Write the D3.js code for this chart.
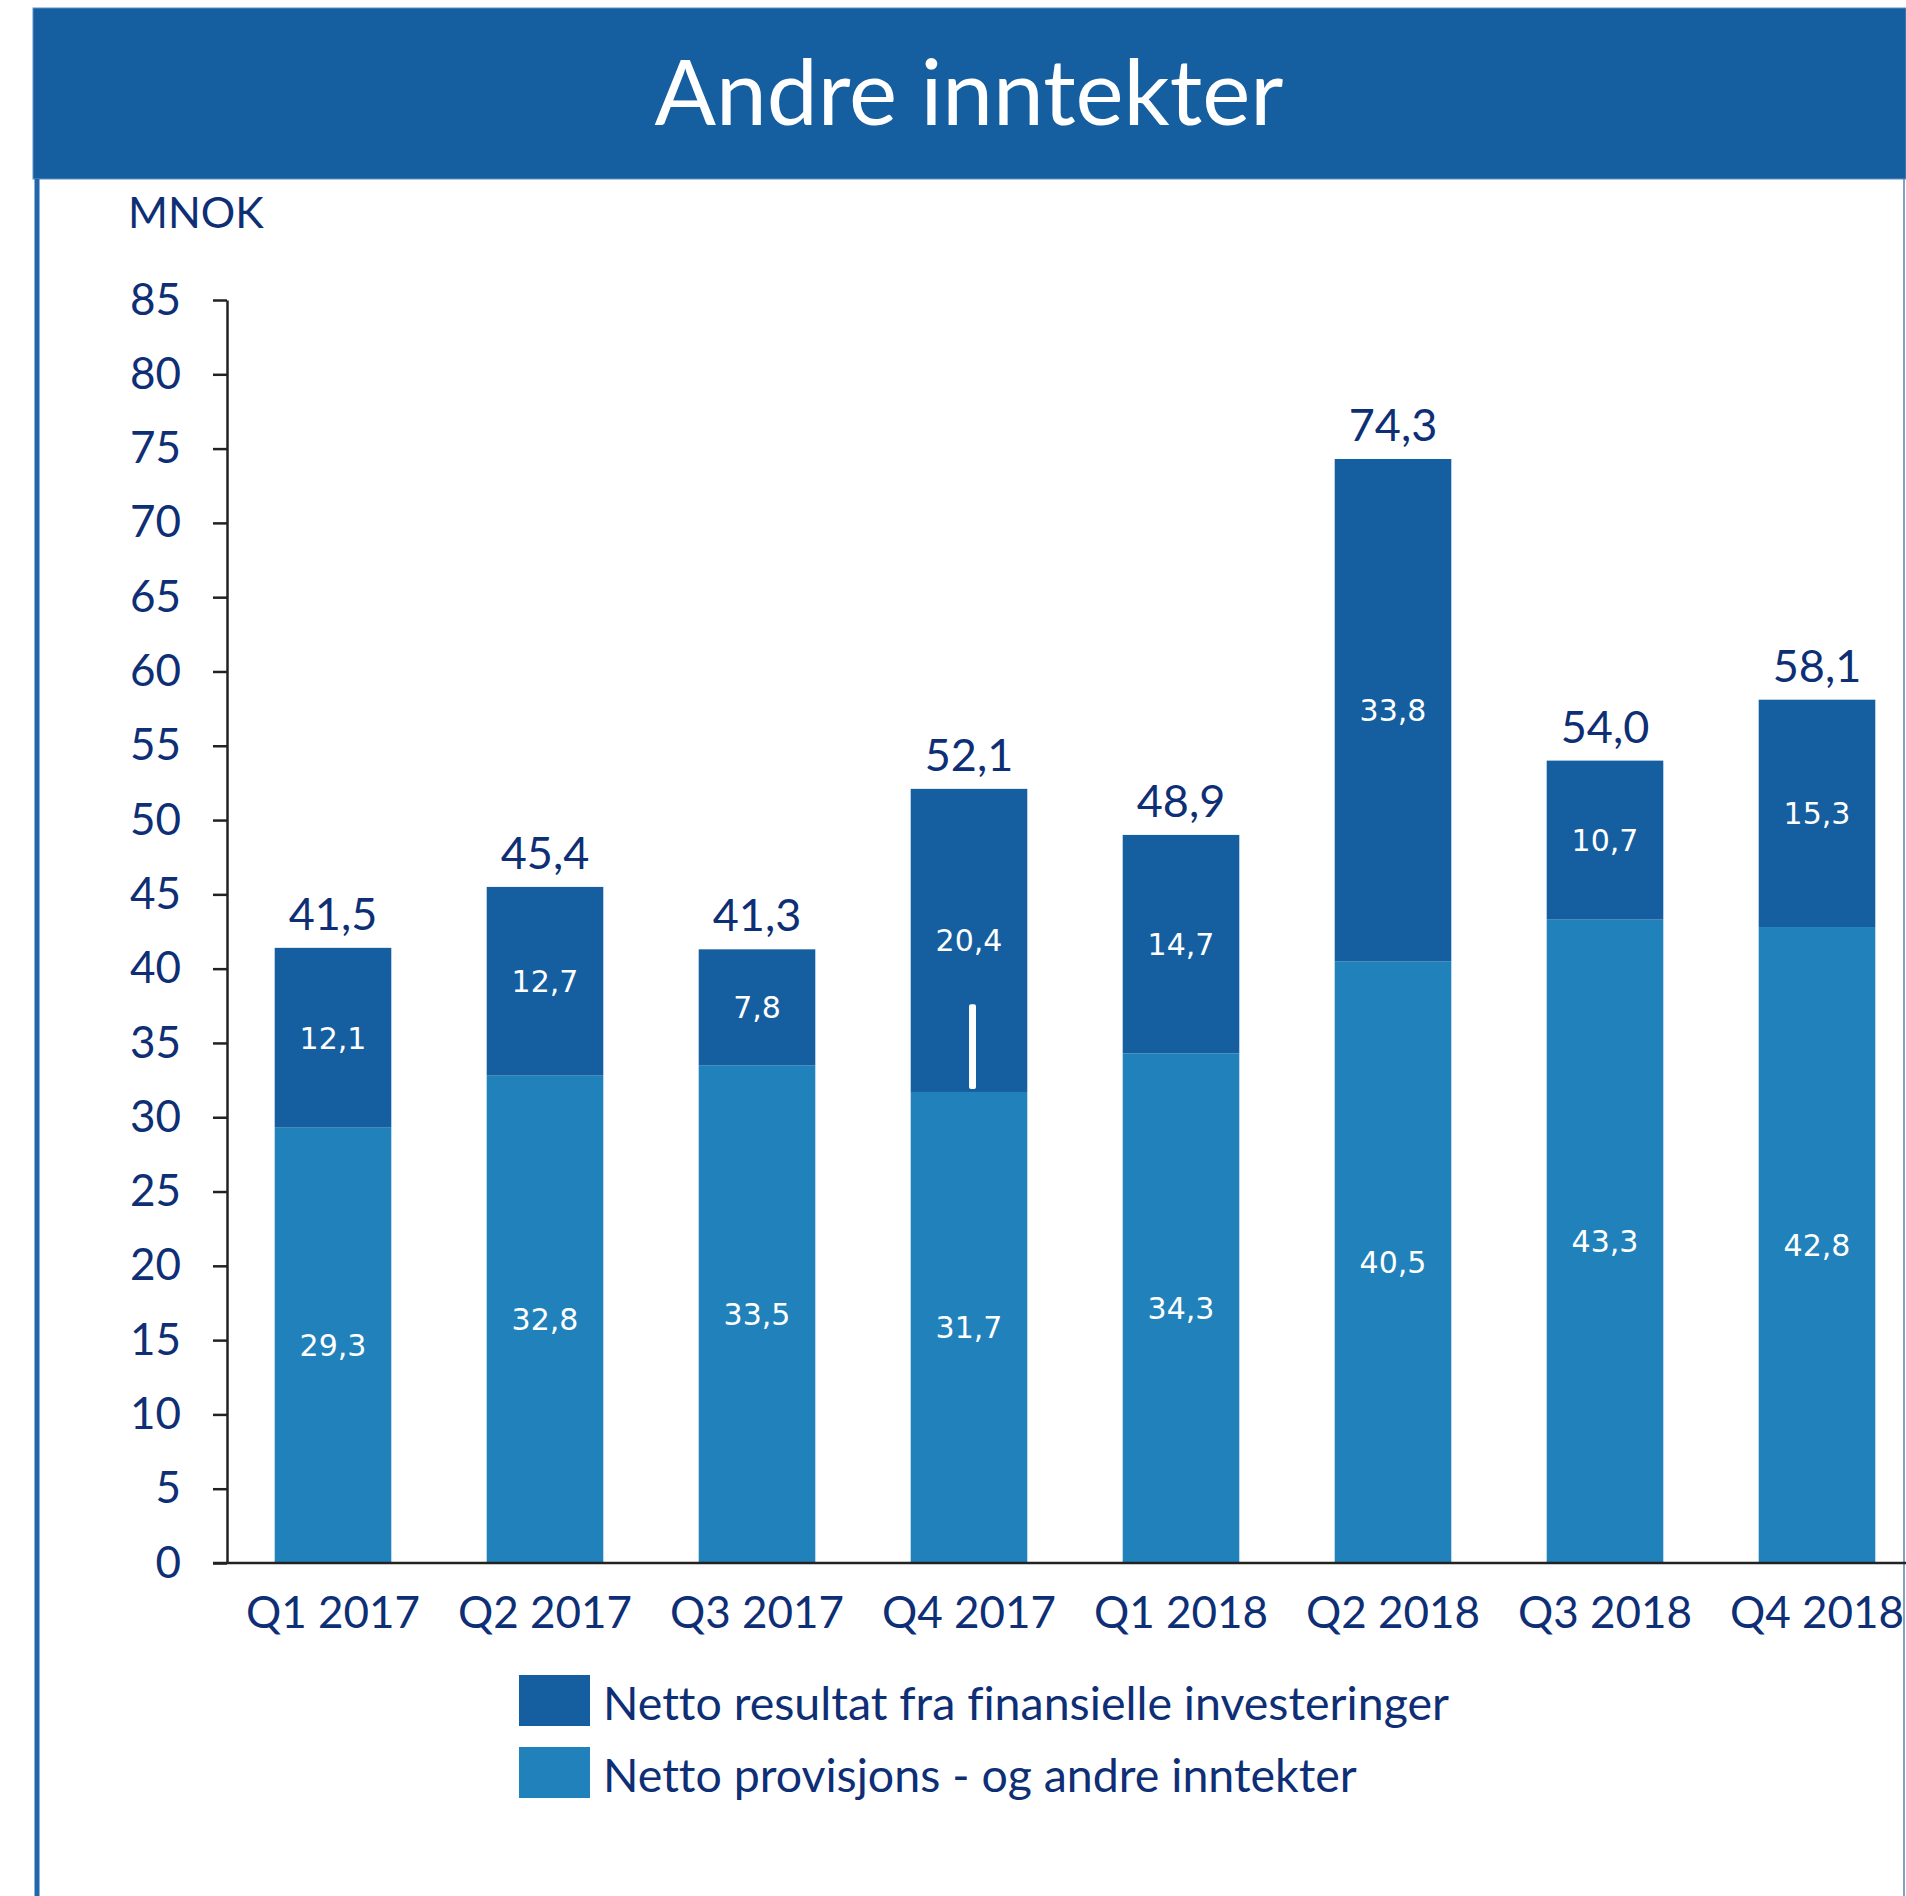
<!DOCTYPE html>
<html>
<head>
<meta charset="utf-8">
<script src="https://cdn.jsdelivr.net/npm/d3@7"></script>
<style>
  html, body { margin: 0; padding: 0; background: #fff; }
  svg { display: block; }
  text { font-variant-ligatures: none; font-feature-settings: "liga" 0; }
</style>
</head>
<body>
<svg id="chart"></svg>
<script>
// Data
const quarters = ["Q1 2017", "Q2 2017", "Q3 2017", "Q4 2017", "Q1 2018", "Q2 2018", "Q3 2018", "Q4 2018"];
const provisjon = [29.3, 32.8, 33.5, 31.7, 34.3, 40.5, 43.3, 42.8];
const finansielle = [12.1, 12.7, 7.8, 20.4, 14.7, 33.8, 10.7, 15.3];
const totalLabels = ["41,5", "45,4", "41,3", "52,1", "48,9", "74,3", "54,0", "58,1"];
const yTicks = [0, 5, 10, 15, 20, 25, 30, 35, 40, 45, 50, 55, 60, 65, 70, 75, 80, 85];
const seriesNames = ["Netto resultat fra finansielle investeringer", "Netto provisjons - og andre inntekter"];

const width = 1906;
const height = 1896;
const darkBlue = "#155fa0";
const lightBlue = "#2182bb";
const navy = "#0e2f75";
const font = "Lato, 'Open Sans', sans-serif";

const svg = d3.select("#chart")
  .attr("width", width)
  .attr("height", height);

// Title banner and frame
svg.append("rect")
  .attr("x", 33).attr("y", 8)
  .attr("width", width - 33).attr("height", 171)
  .attr("fill", darkBlue)
  .attr("stroke", "#5f8fc4").attr("stroke-width", 1);

svg.append("text")
  .attr("x", 969).attr("y", 125)
  .attr("text-anchor", "middle")
  .attr("font-family", font)
  .attr("font-size", 91)
  .attr("fill", "#fff")
  .text("Andre inntekter");

svg.append("line")
  .attr("x1", 37).attr("x2", 37)
  .attr("y1", 179).attr("y2", height)
  .attr("stroke", "#1f67aa").attr("stroke-width", 5);

svg.append("line")
  .attr("x1", 1904).attr("x2", 1904)
  .attr("y1", 179).attr("y2", height)
  .attr("stroke", "#5c7fae").attr("stroke-width", 1.5);

svg.append("text")
  .attr("x", 128).attr("y", 228)
  .attr("font-family", font)
  .attr("font-size", 43)
  .attr("fill", navy)
  .text("MNOK");

// Scales
const x = d3.scaleBand()
  .domain(quarters)
  .range([227, 227 + 212 * quarters.length])
  .paddingInner(0.45)
  .paddingOuter(0.225);

const y = d3.scaleLinear()
  .domain([0, 85])
  .range([1563, 300]);

// Bars
const rows = quarters.map((q, i) => ({
  q, base: provisjon[i], top: finansielle[i], total: totalLabels[i]
}));

const bars = svg.append("g");

bars.selectAll(".base")
  .data(rows)
  .enter().append("rect")
  .attr("class", "base")
  .attr("x", d => x(d.q))
  .attr("y", d => y(d.base))
  .attr("width", x.bandwidth())
  .attr("height", d => y(0) - y(d.base))
  .attr("fill", lightBlue);

bars.selectAll(".top")
  .data(rows)
  .enter().append("rect")
  .attr("class", "top")
  .attr("x", d => x(d.q))
  .attr("y", d => y(d.base + d.top))
  .attr("width", x.bandwidth())
  .attr("height", d => y(d.base) - y(d.base + d.top))
  .attr("fill", darkBlue);

// White mark inside Q4 2017 bar
bars.append("rect")
  .attr("x", x("Q4 2017") + x.bandwidth() / 2)
  .attr("y", y(37.6))
  .attr("width", 7)
  .attr("height", y(31.9) - y(37.6))
  .attr("rx", 2)
  .attr("fill", "#fff");

// Segment labels
const fmt = v => v.toFixed(1).replace(".", ",");

bars.selectAll(".base-label")
  .data(rows)
  .enter().append("text")
  .attr("x", d => x(d.q) + x.bandwidth() / 2)
  .attr("y", d => y(d.base / 2))
  .attr("dy", "0.36em")
  .attr("text-anchor", "middle")
  .attr("font-family", "'DejaVu Sans', Verdana, sans-serif")
  .attr("font-size", 30)
  .attr("fill", "#fff")
  .text(d => fmt(d.base));

bars.selectAll(".top-label")
  .data(rows)
  .enter().append("text")
  .attr("x", d => x(d.q) + x.bandwidth() / 2)
  .attr("y", d => y(d.base + d.top / 2))
  .attr("dy", "0.36em")
  .attr("text-anchor", "middle")
  .attr("font-family", "'DejaVu Sans', Verdana, sans-serif")
  .attr("font-size", 30)
  .attr("fill", "#fff")
  .text(d => fmt(d.top));

bars.selectAll(".total-label")
  .data(rows)
  .enter().append("text")
  .attr("x", d => x(d.q) + x.bandwidth() / 2)
  .attr("y", d => y(d.base + d.top) - 18)
  .attr("text-anchor", "middle")
  .attr("font-family", font)
  .attr("font-size", 45)
  .attr("fill", navy)
  .text(d => d.total);

// Axes
const yAxis = svg.append("g")
  .attr("transform", "translate(227,0)")
  .call(d3.axisLeft(y).tickValues(yTicks).tickSize(14).tickPadding(32).tickSizeOuter(0));

yAxis.select(".domain").attr("stroke", "#222").attr("stroke-width", 2.5);
yAxis.selectAll(".tick line").attr("stroke", "#222").attr("stroke-width", 2.5);
yAxis.selectAll(".tick text")
  .attr("font-family", font)
  .attr("font-size", 44)
  .attr("fill", navy);

const xAxis = svg.append("g")
  .attr("transform", `translate(0,${y(0)})`)
  .call(d3.axisBottom(x).tickSize(0).tickPadding(34));

xAxis.select(".domain")
  .attr("d", `M213,0H${width}`)
  .attr("stroke", "#222").attr("stroke-width", 2.5);
xAxis.selectAll(".tick text")
  .attr("font-family", font)
  .attr("font-size", 44)
  .attr("fill", navy);

// Legend
const legend = svg.append("g");
const legendColors = [darkBlue, lightBlue];

legend.selectAll("rect")
  .data(seriesNames)
  .enter().append("rect")
  .attr("x", 519)
  .attr("y", (d, i) => 1675 + i * 72)
  .attr("width", 71)
  .attr("height", 51)
  .attr("fill", (d, i) => legendColors[i]);

legend.selectAll("text")
  .data(seriesNames)
  .enter().append("text")
  .attr("x", 603)
  .attr("y", (d, i) => 1720 + i * 72)
  .attr("font-family", font)
  .attr("font-size", 46.5)
  .attr("fill", navy)
  .text(d => d);
</script>
</body>
</html>
